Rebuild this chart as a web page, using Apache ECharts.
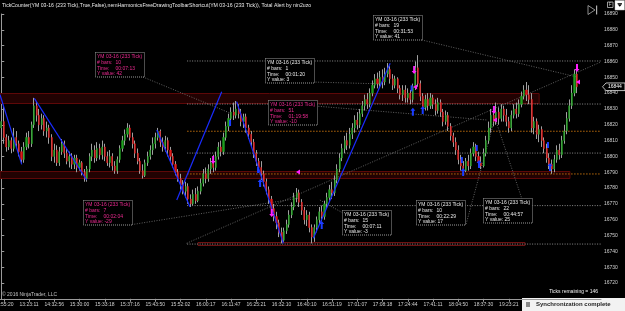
<!DOCTYPE html>
<html><head><meta charset="utf-8">
<script src="https://cdn.jsdelivr.net/npm/echarts@6/dist/echarts.min.js"></script>
<style>html,body{margin:0;padding:0;background:#000;overflow:hidden}#c{width:625px;height:311px}</style>
</head><body><div id="c"></div>
<script>
// ---------- data ----------
const xLabels = ['12:55:20','13:23:11','14:32:56','15:30:00','15:33:18','15:37:16','15:43:50','15:52:02','16:00:17','16:11:47','16:25:21','16:32:10','16:40:10','16:51:19','17:01:07','17:08:18','17:24:44','17:41:11','18:04:50','18:37:30','19:23:21'];
const yTicks = {min:16710, max:16890, step:10};
// bars: [open, close, low, high]
const bars = [
[16818,16822,16814,16826],[16822,16812,16808,16832],[16812,16806,16803,16814],[16806,16810,16804,16813],[16810,16805,16802,16812],
[16805,16812,16803,16818],[16812,16808,16806,16816],[16808,16803,16800,16810],[16803,16798,16796,16806],[16798,16806,16796,16809],
[16806,16812,16804,16815],[16812,16808,16805,16816],[16808,16820,16806,16822],[16820,16832,16818,16837],[16832,16826,16822,16835],
[16826,16820,16816,16830],[16820,16824,16817,16827],[16824,16816,16813,16826],[16816,16818,16812,16822],[16818,16812,16808,16820],
[16812,16800,16797,16814],[16800,16804,16796,16808],[16804,16796,16794,16807],[16796,16803,16794,16806],[16803,16808,16801,16811],
[16808,16802,16799,16810],[16802,16797,16795,16805],[16797,16800,16793,16803],[16800,16795,16792,16802],[16795,16799,16792,16801],
[16799,16793,16790,16801],[16793,16796,16791,16798],[16796,16790,16788,16797],[16790,16786,16784,16792],[16786,16792,16784,16794],
[16792,16800,16790,16802],[16800,16804,16797,16808],[16804,16799,16796,16807],[16799,16805,16797,16809],[16805,16801,16798,16808],
[16801,16806,16798,16810],[16806,16800,16797,16808],[16800,16796,16794,16803],[16796,16800,16793,16804],[16800,16794,16791,16802],
[16794,16791,16789,16797],[16791,16798,16789,16800],[16798,16805,16796,16807],[16805,16810,16803,16813],[16810,16814,16807,16817],
[16814,16818,16812,16821],[16818,16812,16810,16820],[16812,16808,16805,16815],[16808,16802,16799,16810],[16802,16797,16795,16805],
[16797,16791,16789,16799],[16791,16788,16786,16795],[16788,16796,16787,16798],[16796,16800,16794,16803],[16800,16804,16798,16807],
[16804,16808,16801,16812],[16808,16812,16805,16815],[16812,16816,16810,16818],[16816,16809,16806,16817],[16809,16806,16803,16812],
[16806,16810,16803,16813],[16810,16804,16800,16812],[16804,16800,16797,16806],[16800,16795,16793,16802],[16795,16790,16788,16797],
[16790,16786,16784,16792],[16786,16782,16779,16789],[16782,16778,16776,16785],[16778,16781,16774,16784],[16781,16773,16770,16783],
[16773,16770,16768,16776],[16770,16776,16769,16779],[16776,16772,16770,16780],[16772,16778,16771,16781],[16778,16783,16776,16786],
[16783,16789,16781,16792],[16789,16786,16783,16793],[16786,16792,16784,16795],[16792,16796,16789,16799],[16796,16793,16790,16801],
[16793,16800,16791,16803],[16800,16806,16798,16809],[16806,16803,16800,16810],[16803,16812,16801,16815],[16812,16819,16810,16822],
[16819,16824,16816,16827],[16824,16828,16821,16831],[16828,16826,16823,16834],[16826,16830,16824,16835],[16830,16827,16824,16833],
[16827,16822,16819,16830],[16822,16825,16818,16827],[16825,16818,16815,16827],[16818,16814,16811,16820],[16814,16809,16806,16816],
[16809,16802,16799,16811],[16802,16797,16794,16804],[16797,16793,16790,16799],[16793,16789,16785,16797],[16789,16784,16781,16791],
[16784,16779,16776,16786],[16779,16773,16770,16781],[16773,16767,16764,16775],[16767,16762,16759,16770],[16762,16758,16754,16765],
[16758,16752,16749,16760],[16752,16747,16745,16755],[16747,16753,16746,16755],[16753,16757,16751,16760],[16757,16763,16755,16766],
[16763,16768,16761,16771],[16768,16774,16766,16777],[16774,16777,16771,16780],[16777,16771,16768,16779],[16771,16766,16763,16773],
[16766,16760,16757,16768],[16760,16763,16756,16766],[16763,16755,16752,16765],[16755,16749,16745,16757],[16749,16755,16746,16757],
[16755,16760,16752,16762],[16760,16765,16757,16768],[16765,16762,16759,16769],[16762,16770,16760,16772],[16770,16774,16767,16777],
[16774,16779,16772,16782],[16779,16777,16773,16784],[16777,16785,16775,16788],[16785,16792,16783,16795],[16792,16799,16790,16802],
[16799,16805,16797,16808],[16805,16810,16802,16813],[16810,16807,16804,16815],[16807,16814,16805,16818],[16814,16818,16811,16821],
[16818,16823,16815,16826],[16823,16820,16817,16828],[16820,16827,16818,16830],[16827,16832,16825,16835],[16832,16836,16829,16839],
[16836,16833,16830,16840],[16833,16840,16831,16843],[16840,16845,16838,16848],[16845,16849,16843,16852],[16849,16846,16843,16853],
[16846,16850,16844,16854],[16850,16847,16843,16855],[16847,16852,16845,16856],[16852,16855,16850,16859],[16855,16849,16846,16857],
[16849,16845,16842,16852],[16845,16849,16843,16851],[16849,16843,16840,16850],[16843,16839,16836,16845],[16839,16842,16835,16845],
[16842,16837,16834,16845],[16837,16840,16834,16843],[16840,16836,16833,16842],[16836,16844,16834,16846],[16844,16856,16842,16860],
[16856,16846,16844,16864],[16846,16838,16835,16848],[16838,16831,16828,16840],[16831,16836,16829,16839],[16836,16832,16829,16840],
[16832,16837,16830,16840],[16837,16833,16830,16839],[16833,16829,16826,16836],[16829,16834,16827,16837],[16834,16828,16825,16836],
[16828,16822,16819,16830],[16822,16826,16820,16829],[16826,16819,16816,16828],[16819,16813,16810,16821],[16813,16809,16806,16815],
[16809,16804,16801,16812],[16804,16798,16795,16807],[16798,16794,16791,16801],[16794,16791,16789,16797],[16791,16797,16790,16799],
[16797,16794,16791,16801],[16794,16802,16792,16805],[16802,16806,16800,16809],[16806,16800,16797,16808],[16800,16796,16793,16803],
[16796,16794,16792,16800],[16794,16802,16793,16805],[16802,16810,16800,16813],[16810,16818,16808,16822],[16818,16826,16815,16830],
[16826,16822,16819,16829],[16822,16828,16820,16834],[16828,16824,16820,16831],[16824,16830,16822,16833],[16830,16826,16822,16832],
[16826,16822,16819,16830],[16822,16818,16815,16825],[16818,16826,16816,16829],[16826,16830,16824,16833],[16830,16827,16824,16834],
[16827,16833,16825,16836],[16833,16838,16831,16841],[16838,16842,16836,16845],[16842,16839,16835,16847],[16839,16836,16833,16845],
[16836,16818,16815,16840],[16818,16822,16814,16825],[16822,16814,16811,16824],[16814,16817,16809,16820],[16817,16810,16806,16819],
[16810,16805,16802,16812],[16805,16799,16796,16808],[16799,16795,16792,16802],[16795,16792,16789,16798],[16792,16798,16790,16801],
[16798,16804,16796,16807],[16804,16801,16798,16808],[16801,16810,16799,16813],[16810,16816,16808,16820],[16816,16824,16814,16828],
[16824,16832,16822,16836],[16832,16840,16830,16845],[16840,16852,16838,16855],[16852,16844,16840,16854]
];
const slotCount = 238;
const lastPrice = 16844;
// drawn zones [xFrom, xTo, priceTop, priceBottom]
const zones = [[-0.5,213,16840,16833.4],[-0.5,225.2,16790.8,16786.1]];
const lowRect = [[77.9,207.4,16746.1,16744]];
// horizontal levels
const grayLevels = [16860.3,16833.1,16802.1,16768.9,16744.6];
const orangeLevels = [16815.9,16788.9];
const levelStart = 73.6;
// blue trend lines [x1,p1,x2,p2]
const blueLines = [[-0.5,16839,8.1,16795],[13.1,16836.7,33.8,16785.1],[61.6,16816.7,74.7,16768.2],[69.5,16772.4,87.3,16840.9],[93.2,16834.6,111.7,16745],[123.6,16748.2,154,16858.8]];
// connector lines
const grayLines = [[56.1,16850.2,90.6,16827.4],[166.5,16873.6,227.9,16850.2],[73.4,16745.1,237.5,16859.7],[51.7,16756.9,118.3,16773.7],[124.6,16831.8,192.4,16823],[123.5,16847,151.2,16845.8],[184.1,16757.3,195.5,16824.3],[195.5,16824.3,206.2,16773],[126.2,16772.4,135.3,16764.2]];
// markers [x, price, kind] 0 magenta down arrow, 1 blue up arrow, 2 magenta pointer, 3 blue tick
const markers = [[83.9,16797.7,0],[107.1,16764.2,0],[163.5,16854.6,0],[195.1,16829.3,0],[228,16855.9,0],
[102.5,16783.2,1],[126.9,16756.6,1],[163,16828.2,1],[166.9,16829.3,1],[182.9,16790.1,1],[189.2,16795.2,1],[217.3,16793.3,1],
[163.9,16843.9,2],[195.5,16823,2],[228.4,16847,2],[117.5,16790.1,2],
[90.6,16821.1,3],[101.7,16791.4,3],[162.5,16843,3],[182.4,16797.7,3],[188.3,16805.3,3],[216.5,16807.2,3]];
// measurement boxes [x, price, magenta?, bars, time, yValue]
const boxes = [[37.1,16865.8,1,'10','00:07:13','42'],[104.5,16862,0,'1','00:01:20','3'],[147.2,16889.4,0,'19','00:31:53','41'],
[105.5,16835.6,1,'51','01:19:58','-10'],[32.3,16772.4,1,'7','00:02:04','-29'],[134.8,16766.1,0,'15','00:07:11','-3'],
[164.3,16772.4,0,'10','00:22:29','17'],[190.9,16773.5,0,'22','00:44:57','25']];

// ---------- chart ----------
const FONT = '"Liberation Sans", Arial, sans-serif';
const categories = [];
for (let i = 0; i < slotCount; i++) {
  const k = (i - 1) / 10;
  categories.push(i % 10 === 1 && k < xLabels.length ? xLabels[k] : '');
}
const firstLabelIdx = 1;
const bodies = bars.map(b => [b[0], b[1], Math.min(b[0], b[1]), Math.max(b[0], b[1])]);

function segSeries(segs, color, dash, width) {
  return {type:'custom', xAxisIndex:1, yAxisIndex:0, silent:true, clip:true, z:3,
    encode:{x:[0,2], y:[1,3]}, data:segs,
    renderItem(params, api){
      const a = api.coord([api.value(0), api.value(1)]);
      const b = api.coord([api.value(2), api.value(3)]);
      return {type:'line', shape:{x1:a[0],y1:a[1],x2:b[0],y2:b[1]},
        style:{stroke:color, lineWidth:width, lineDash:dash}};
    }};
}
function zoneSeries(z, fill, stroke) {
  return {type:'custom', xAxisIndex:1, yAxisIndex:0, silent:true, clip:true, z:1,
    encode:{x:[0,1], y:[2,3]}, data:z,
    renderItem(params, api){
      const a = api.coord([api.value(0), api.value(2)]);
      const b = api.coord([api.value(1), api.value(3)]);
      return {type:'rect', shape:{x:a[0], y:Math.round(a[1])+0.5, width:b[0]-a[0], height:Math.round(b[1]-a[1])},
        style:{fill:fill, stroke:stroke, lineWidth:1}};
    }};
}
const horizSegsGray = grayLevels.map(p => [levelStart, p, slotCount - 0.5, p]);
const horizSegsOrange = orangeLevels.map(p => [levelStart, p, slotCount - 0.5, p]);
const showLabel = (i) => categories[i] !== '' && i !== firstLabelIdx;

const option = {
  backgroundColor:'#000',
  animation:false,
  grid:{left:0, right:24, top:14, height:284.8, containLabel:false},
  xAxis:[{
    type:'category', data:categories, boundaryGap:true,
    axisLine:{lineStyle:{color:'#9a9a9a', width:1}},
    axisTick:{show:true, alignWithLabel:true, length:3, interval:(i)=>categories[i]!=='', lineStyle:{color:'#9a9a9a'}},
    axisLabel:{interval:showLabel, color:'#d0d0d0', fontSize:5, fontFamily:FONT, margin:3, hideOverlap:false},
    splitLine:{show:false}
  },{
    type:'value', min:-0.5, max:slotCount-0.5, show:false
  }],
  yAxis:[{
    type:'value', position:'right', min:yTicks.min, max:yTicks.max, interval:yTicks.step, scale:true,
    axisLine:{show:true, lineStyle:{color:'#9a9a9a'}},
    axisTick:{show:true, length:3, lineStyle:{color:'#9a9a9a'}},
    axisLabel:{color:'#d0d0d0', fontSize:5, fontFamily:FONT, margin:3, showMinLabel:false, formatter:(v)=>String(v)},
    splitLine:{show:false}
  }],
  series:[
    zoneSeries(zones, '#220202', '#5e0808'),
    zoneSeries(lowRect, '#120000', '#6e1212'),
    segSeries(horizSegsOrange, '#b86a0c', [1.5,1.5], 1),
    segSeries(horizSegsGray, '#8a8a8a', [1,1.5], 1),
    segSeries(grayLines, '#7a7a7a', [1,1.5], 0.8),
    {type:'candlestick', data:bars, barWidth:1, z:4, silent:true,
     itemStyle:{color:'#a0a0a0', color0:'#a0a0a0', borderColor:'#a0a0a0', borderColor0:'#a0a0a0', borderWidth:1}},
    {type:'candlestick', data:bodies, barWidth:1.6, z:5, silent:true,
     itemStyle:{color:'#1f9f1f', color0:'#e01a1a', borderColor:'#1f9f1f', borderColor0:'#e01a1a', borderWidth:0.4}},
    Object.assign(segSeries(blueLines, '#1a2cff', null, 1.2), {z:6}),
    {type:'custom', xAxisIndex:1, yAxisIndex:0, silent:true, clip:false, z:7, data:markers,
     renderItem(params, api){
       const p = api.coord([api.value(0), api.value(1)]);
       const k = api.value(2); const x = p[0], y = p[1];
       if (k === 0) return {type:'polygon', shape:{points:[[x-1,y-4],[x+1,y-4],[x+1,y+1],[x+2.5,y+1],[x,y+4],[x-2.5,y+1],[x-1,y+1]]}, style:{fill:'#ff20ff'}};
       if (k === 1) return {type:'polygon', shape:{points:[[x-1,y+4],[x+1,y+4],[x+1,y-1],[x+2.5,y-1],[x,y-4],[x-2.5,y-1],[x-1,y-1]]}, style:{fill:'#1a3cff'}};
       if (k === 2) return {type:'polygon', shape:{points:[[x+2,y-2.5],[x+2,y+2.5],[x-2,y]]}, style:{fill:'#ff20ff'}};
       return {type:'rect', shape:{x:x-1, y:y-3, width:2, height:6}, style:{fill:'#1a3cff'}};
     }},
    {type:'custom', xAxisIndex:1, yAxisIndex:0, silent:true, clip:false, z:8, data:boxes.map(b=>[b[0],b[1]]),
     renderItem(params, api){
       const b = boxes[params.dataIndex];
       const p = api.coord([api.value(0), api.value(1)]);
       const x = Math.round(p[0]) + 0.5, y = Math.round(p[1]) + 0.5;
       const col = b[2] ? '#ee2a92' : '#e8e8e8';
       const t = (s, dx, dy) => ({type:'text', x:x+dx, y:y+dy, style:{text:s, fill:col, fontSize:5, fontFamily:FONT, align:'left', verticalAlign:'middle'}});
       return {type:'group', children:[
         {type:'rect', shape:{x:x, y:y, width:49, height:24.5}, style:{fill:'#000', stroke:'#9a9a9a', lineWidth:1, lineDash:[1,1]}},
         t('YM 03-16 (233 Tick)', 1.5, 4.2), t('# bars:', 1.5, 10), t(b[3], 20, 10),
         t('Time:', 1.5, 15.8), t(b[4], 20, 15.8), t('Y value: ' + b[5], 1.5, 21.5)
       ]};
     }},
    {type:'custom', xAxisIndex:1, yAxisIndex:0, silent:true, clip:false, z:9, data:[[bars.length-1, lastPrice]],
     renderItem(params, api){
       const p = api.coord([api.value(0), api.value(1)]);
       const x0 = api.coord([slotCount-0.5, lastPrice])[0];
       const y = p[1];
       return {type:'group', children:[
         {type:'polygon', shape:{points:[[x0+1.5,y],[x0+5,y-3.8],[x0+24,y-3.8],[x0+24,y+3.8],[x0+5,y+3.8]]}, style:{fill:'#000', stroke:'#e8e8e8', lineWidth:0.8}},
         {type:'text', x:x0+7, y:y, style:{text:String(lastPrice), fill:'#ffffff', fontSize:5, fontFamily:FONT, align:'left', verticalAlign:'middle'}}
       ]};
     }}
  ],
  graphic:[
    {type:'text', left:2, top:3.5, style:{text:'TickCounter(YM 03-16 (233 Tick),True,False),nemHarmonicsFreeDrawingToolbarShortcut(YM 03-16 (233 Tick)), Total Alert by nin2uzo', fill:'#e8e8e8', fontSize:5.2, fontFamily:FONT}},
    {type:'text', left:2, top:292.5, style:{text:'© 2016 NinjaTrader, LLC', fill:'#c0c0c0', fontSize:5, fontFamily:FONT}},
    {type:'text', right:27, top:289, style:{text:'Ticks remaining = 146', fill:'#f0f0f0', fontSize:5, fontFamily:FONT, align:'right'}},
    {type:'rect', shape:{x:522, y:298, width:103, height:13}, style:{fill:'#f2f2f2'}},
    {type:'rect', shape:{x:526, y:302, width:4, height:5}, style:{fill:'#8a8a8a'}},
    {type:'text', x:536, y:304.5, style:{text:'Synchronization complete', fill:'#1e1e1e', fontSize:6, fontWeight:'bold', fontFamily:FONT, verticalAlign:'middle'}},
    {type:'polygon', shape:{points:[[588,5.5],[588,14.5],[595,10]]}, style:{fill:'none', stroke:'#b0b0b0', lineWidth:0.8}},
    {type:'rect', shape:{x:596,y:5.5,width:1.2,height:9}, style:{fill:'#b0b0b0'}},
    {type:'rect', shape:{x:607.5,y:2,width:5.5,height:5.5}, style:{fill:'#000', stroke:'#c0c0c0', lineWidth:0.8}},
    {type:'text', x:608.8, y:4.9, style:{text:'F', fill:'#c0c0c0', fontSize:4.5, fontFamily:FONT, verticalAlign:'middle'}},
    {type:'rect', shape:{x:615,y:0.5,width:9.5,height:9.5}, style:{fill:'#ffffff', stroke:'#c0c0c0', lineWidth:0.5}},
    {type:'polygon', shape:{points:[[617.5,4.2],[622,4.2],[619.75,6.8]]}, style:{fill:'#000'}},
    {type:'rect', shape:{x:617.5,y:3,width:4.5,height:0.8}, style:{fill:'#000'}}
  ]
};
const chart = echarts.init(document.getElementById('c'), null, {renderer:'canvas'});
chart.setOption(option);
// first time label sits half outside the left edge; place it at its category position so it is cut like the original
const fx = chart.convertToPixel({xAxisIndex:0}, firstLabelIdx);
const axisY = chart.convertToPixel({yAxisIndex:0}, yTicks.min);
chart.setOption({graphic:[{type:'text', id:'firstLabel', x:fx, y:axisY + 3, style:{text:categories[firstLabelIdx], fill:'#d0d0d0', fontSize:5, fontFamily:FONT, align:'center', verticalAlign:'top'}}]});
</script>
</body></html>
